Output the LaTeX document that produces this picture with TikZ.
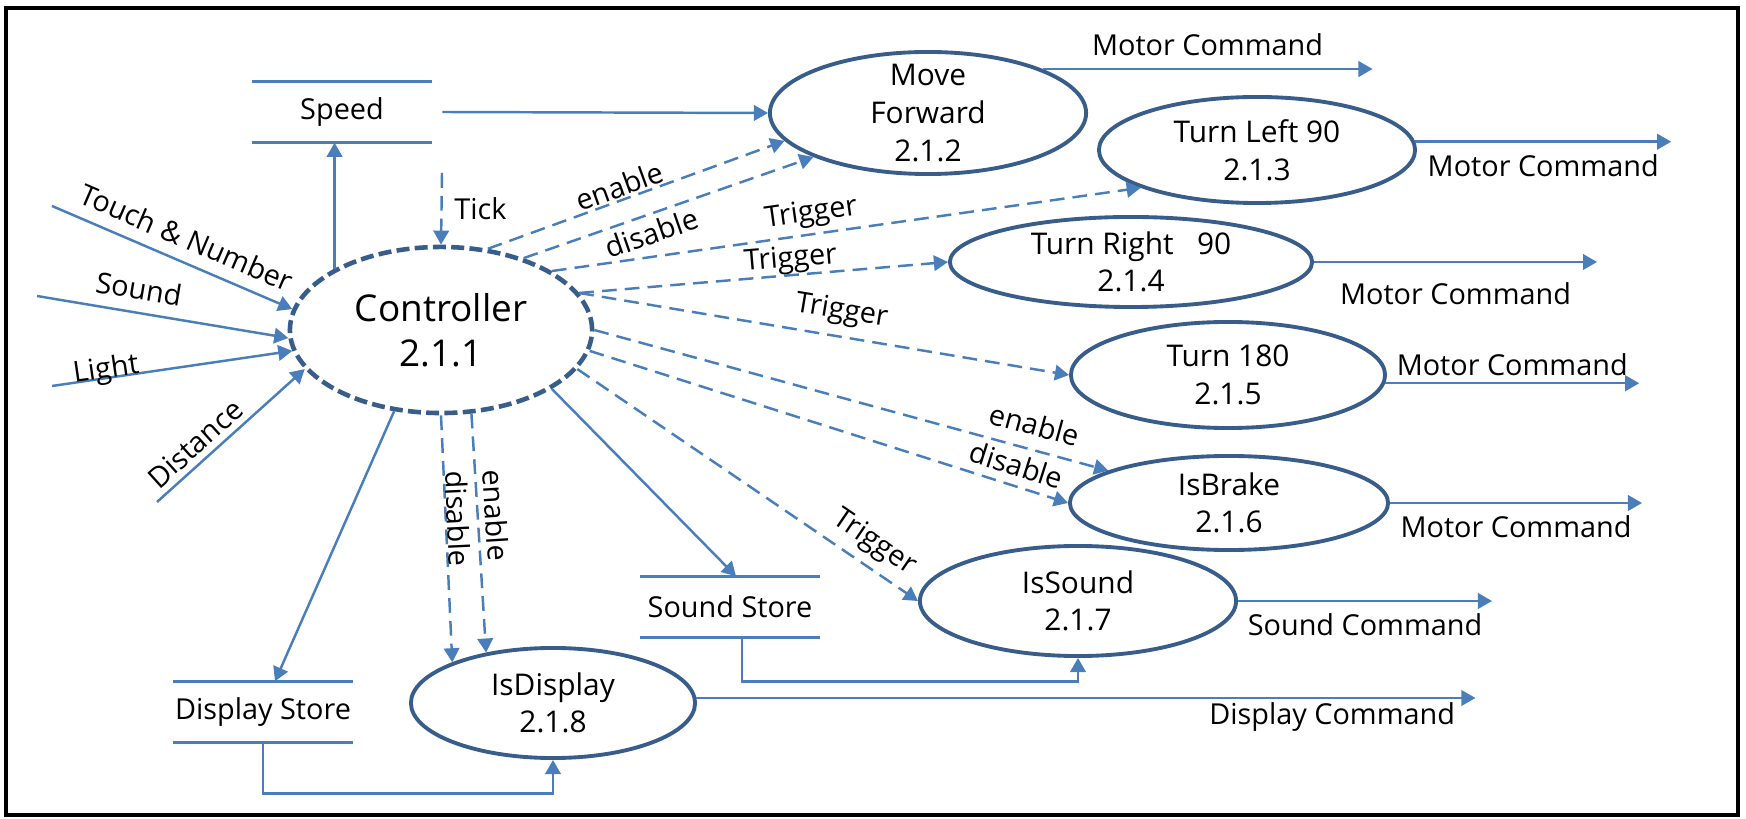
\documentclass[tikz,border=0pt]{standalone}
\usepackage{fontspec}
\setmainfont{Open Sans}
\usetikzlibrary{arrows.meta,shapes.geometric}

\definecolor{flowblue}{RGB}{74,126,187}
\definecolor{procblue}{RGB}{56,93,138}

\tikzset{
  proc/.style={ellipse, draw=procblue, line width=1.1pt, inner sep=0pt,
    align=center, font=\fontsize{8.5}{10.7}\selectfont},
  store/.style={minimum width=1.79cm, minimum height=0.6cm, inner sep=0pt},
  flow/.style={draw=flowblue, line width=0.7pt,
    -{Triangle[length=4pt,width=4.4pt]}},
  ctl/.style={flow, dash pattern=on 4.2pt off 2.3pt},
  lbl/.style={font=\fontsize{8.2}{10}\selectfont}
}

\begin{document}
\begin{tikzpicture}[x=0.01cm,y=-0.01cm,font=\fontsize{8.2}{10}\selectfont]

  % Page size and outer frame
  \useasboundingbox (0,0) rectangle (1746,819);
  \draw[line width=1.4pt] (6,8) rectangle (1738,815);

  % Processes
  \node[proc, line width=1.3pt, dash pattern=on 3.7pt off 1.5pt,
        minimum width=3.02cm, minimum height=1.66cm,
        font=\fontsize{10.5}{12.8}\selectfont] (ctrl) at (441,330) {Controller\\2.1.1};
  \node[proc, minimum width=3.16cm, minimum height=1.22cm, inner ysep=-3pt]
        (mf) at (928,113) {Move\\Forward\\2.1.2};
  \node[proc, minimum width=3.16cm, minimum height=1.06cm] (tl) at (1257,150) {Turn Left 90\\2.1.3};
  \node[proc, minimum width=3.62cm, minimum height=0.90cm] (tr) at (1131,262) {Turn Right\ \ \ 90\\2.1.4};
  \node[proc, minimum width=3.14cm, minimum height=1.06cm] (tt) at (1228,375) {Turn 180\\2.1.5};
  \node[proc, minimum width=3.18cm, minimum height=0.94cm] (brk) at (1229,503) {IsBrake\\2.1.6};
  \node[proc, minimum width=3.16cm, minimum height=1.10cm] (snd) at (1078,601) {IsSound\\2.1.7};
  \node[proc, minimum width=2.84cm, minimum height=1.10cm] (disp) at (553,703) {IsDisplay\\2.1.8};

  % Data stores
  \node[store] (spd) at (342,112) {Speed};
  \node[store] (dst) at (263,712) {Display Store};
  \node[store] (sst) at (730,607) {Sound Store};
  \foreach \s in {spd,dst,sst}
    \draw[draw=flowblue, line width=0.7pt] (\s.north west) -- (\s.north east)
                                           (\s.south west) -- (\s.south east);

  % Free ends of the inputs
  \coordinate (tn) at (52,206);
  \coordinate (sn) at (37,296);
  \coordinate (lt) at (52,386);
  \coordinate (ds) at (157,502);
  \coordinate (tk) at (442,173);

  % Sensor inputs
  \draw[flow] (tn) -- (ctrl.172) node[lbl, pos=.52, sloped, above] {Touch \& Number};
  \draw[flow] (sn) -- (ctrl.183) node[lbl, pos=.39, sloped, above] {Sound};
  \draw[flow] (lt) -- (ctrl.188) node[lbl, pos=.23, sloped, anchor=base] {Light};
  \draw[flow] (ds) -- (ctrl.196) node[lbl, pos=.34, sloped, above, inner sep=1.7pt] {Distance};
  \draw[ctl] (tk) -- (ctrl.north) node[lbl, midway, right] {Tick};

  % Speed store
  \draw[flow] (ctrl.150) -- (ctrl.150 |- spd.south);
  \draw[flow] ([xshift=0.1cm]spd.east) -- (mf.west);

  % Control flows
  \draw[ctl] (ctrl.60) -- (mf.191) node[lbl, pos=.46, sloped, above, inner sep=0.5pt] {enable};
  \draw[ctl] (ctrl.41) -- (mf.201) node[lbl, pos=.42, sloped, below, inner sep=1.7pt] {disable};
  \draw[ctl] (ctrl.28) -- (tl.198) node[lbl, pos=.445, sloped, above, inner sep=1.4pt] {Trigger};
  \draw[ctl] (ctrl.15) -- (tr.west) node[lbl, pos=.577, sloped, above, inner sep=0pt] {Trigger};
  \draw[ctl] (ctrl.15) -- (tt.west) node[lbl, pos=.527, sloped, above, inner sep=2.7pt] {Trigger};
  \draw[ctl] (ctrl.east) -- (brk.165) node[lbl, pos=.844, sloped, above, inner sep=3.6pt] {enable};
  \draw[ctl] (ctrl.352) -- (brk.west) node[lbl, pos=.88, sloped, above, inner sep=2.4pt] {disable};
  \draw[ctl] (ctrl.344) -- (snd.west) node[lbl, pos=.833, sloped, above, inner sep=2.4pt] {Trigger};
  \draw[ctl] (ctrl.south) -- (disp.158) node[lbl, pos=.42, sloped, above, inner sep=0pt] {disable};
  \draw[ctl] (ctrl.290) -- (disp.143) node[lbl, pos=.43, sloped, above, inner sep=1.7pt] {enable};

  % Display and sound stores
  \draw[flow] (ctrl.240) -- ([xshift=0.12cm]dst.north);
  \draw[flow] (ctrl.332) -- ([xshift=0.06cm]sst.north);
  \draw[flow] (dst.south) -- ++(0,51) -| (disp.south);
  \draw[flow] ([xshift=0.12cm]sst.south) -- ++(0,44) -| (snd.south);

  % Outputs
  \draw[flow] (mf.21) -- ++(330,0) node[lbl, midway, above] {Motor Command};
  \draw[flow] (tl.3) -- ++(256,0) node[lbl, midway, below] {Motor Command};
  \draw[flow] (tr.east) -- ++(283,0) node[lbl, midway, below, yshift=-0.08cm] {Motor Command};
  \draw[flow] (tt.357) -- ++(254,0) node[lbl, midway, above, inner sep=1.7pt] {Motor Command};
  \draw[flow] (brk.east) -- ++(252,0) node[lbl, midway, below] {Motor Command};
  \draw[flow] (snd.east) -- ++(254,0) node[lbl, midway, below] {Sound Command};
  \draw[flow] (disp.2) -- ++(779,0) node[lbl, pos=.816, below, inner sep=1pt] {Display Command};

\end{tikzpicture}
\end{document}
